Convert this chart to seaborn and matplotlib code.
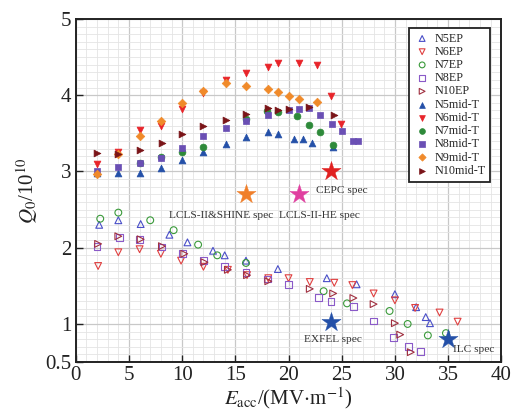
import matplotlib
matplotlib.use("Agg")
import matplotlib.pyplot as plt
import seaborn as sns
import pandas as pd
import numpy as np
from matplotlib.ticker import MultipleLocator

# ---------------- data ----------------
N5EP_E = [2.2, 4.0, 6.1, 8.8, 10.5, 12.9, 14.0, 16.0, 19.0, 23.6, 26.4, 30.0, 32.0, 32.9, 33.3]
N5EP_Q = [2.30, 2.36, 2.31, 2.17, 2.07, 1.96, 1.90, 1.83, 1.72, 1.60, 1.52, 1.39, 1.22, 1.09, 1.01]

N6EP_E = [2.1, 4.0, 6.0, 8.0, 9.9, 12.0, 14.3, 16.1, 18.1, 20.0, 22.0, 24.3, 26.0, 28.0, 30.0, 31.9, 34.2, 35.9]
N6EP_Q = [1.76, 1.94, 1.98, 1.92, 1.83, 1.75, 1.71, 1.64, 1.60, 1.60, 1.55, 1.54, 1.51, 1.40, 1.31, 1.21, 1.15, 1.03]

N7EP_E = [2.3, 4.0, 7.0, 9.2, 11.5, 13.3, 16.0, 23.3, 25.5, 29.5, 31.2, 33.1, 34.8]
N7EP_Q = [2.38, 2.46, 2.36, 2.23, 2.04, 1.90, 1.80, 1.43, 1.27, 1.17, 1.00, 0.85, 0.88]

N8EP_E = [2.0, 4.1, 6.0, 8.1, 10.0, 12.0, 14.0, 16.0, 18.0, 20.0, 22.8, 24.0, 26.1, 28.0, 29.9, 31.3, 32.4]
N8EP_Q = [2.02, 2.13, 2.11, 2.01, 1.92, 1.83, 1.75, 1.67, 1.59, 1.52, 1.35, 1.29, 1.23, 1.04, 0.82, 0.70, 0.64]

N10EP_E = [2.1, 4.0, 6.1, 8.1, 10.2, 12.1, 14.3, 16.1, 18.1, 22.0, 24.2, 26.1, 28.0, 30.0, 30.5, 31.5]
N10EP_Q = [2.05, 2.15, 2.11, 2.02, 1.92, 1.81, 1.71, 1.64, 1.56, 1.46, 1.40, 1.34, 1.26, 1.01, 0.86, 0.63]

N5mid_E = [2.0, 4.0, 6.0, 8.0, 10.0, 12.0, 14.1, 16.0, 18.1, 19.0, 20.5, 21.4, 22.2, 24.2]
N5mid_Q = [2.98, 2.98, 2.98, 3.05, 3.15, 3.26, 3.36, 3.45, 3.52, 3.49, 3.43, 3.43, 3.37, 3.32]

N6mid_E = [2.0, 4.0, 6.0, 8.0, 10.0, 12.0, 14.1, 16.0, 18.1, 19.0, 21.0, 22.7, 24.0, 24.9]
N6mid_Q = [3.10, 3.26, 3.54, 3.60, 3.82, 4.03, 4.20, 4.29, 4.37, 4.42, 4.42, 4.40, 3.99, 3.62]

N7mid_E = [6.0, 8.0, 10.0, 12.0, 16.0, 18.0, 19.0, 20.8, 21.9, 23.0, 24.2]
N7mid_Q = [3.11, 3.19, 3.25, 3.32, 3.69, 3.79, 3.78, 3.73, 3.61, 3.52, 3.35]

N8mid_E = [2.0, 4.0, 6.0, 8.0, 10.0, 12.0, 14.1, 16.0, 18.1, 20.0, 21.0, 21.9, 23.0, 24.1, 25.0, 26.1, 26.5]
N8mid_Q = [3.00, 3.06, 3.11, 3.18, 3.31, 3.47, 3.57, 3.66, 3.74, 3.80, 3.82, 3.83, 3.74, 3.62, 3.53, 3.40, 3.40]

N9mid_E = [2.0, 4.0, 6.0, 8.0, 10.0, 12.0, 14.1, 16.0, 18.1, 19.0, 20.0, 21.0, 22.7]
N9mid_Q = [2.97, 3.23, 3.47, 3.66, 3.90, 4.06, 4.16, 4.12, 4.08, 4.04, 3.99, 3.95, 3.91]

N10mid_E = [2.0, 4.0, 6.0, 8.1, 10.0, 12.0, 14.1, 16.0, 18.1, 19.0, 20.0, 21.9, 24.3]
N10mid_Q = [3.24, 3.23, 3.28, 3.37, 3.49, 3.60, 3.68, 3.75, 3.83, 3.81, 3.82, 3.84, 3.74]

spec_names = ["LCLS-II&SHINE spec", "LCLS-II-HE spec", "CEPC spec", "EXFEL spec", "ILC spec"]
spec_E = [16, 21, 24, 24, 35]
spec_Q = [2.7, 2.7, 3.0, 1.03, 0.8]

x_ticks = [0, 5, 10, 15, 20, 25, 30, 35, 40]
y_ticks = [0.5, 1, 2, 3, 4, 5]
y_tick_labels = ["0.5", "1", "2", "3", "4", "5"]

# ---------------- styles ----------------
series = [
    ("N5EP", N5EP_E, N5EP_Q, "^", "#4a4fc8", False),
    ("N6EP", N6EP_E, N6EP_Q, "v", "#e04040", False),
    ("N7EP", N7EP_E, N7EP_Q, "o", "#3a9a3a", False),
    ("N8EP", N8EP_E, N8EP_Q, "s", "#8a5ac8", False),
    ("N10EP", N10EP_E, N10EP_Q, ">", "#a03040", False),
    ("N5mid-T", N5mid_E, N5mid_Q, "^", "#2450a8", True),
    ("N6mid-T", N6mid_E, N6mid_Q, "v", "#e8242a", True),
    ("N7mid-T", N7mid_E, N7mid_Q, "o", "#2e8a3a", True),
    ("N8mid-T", N8mid_E, N8mid_Q, "s", "#6a4fb4", True),
    ("N9mid-T", N9mid_E, N9mid_Q, "D", "#f08a2a", True),
    ("N10mid-T", N10mid_E, N10mid_Q, ">", "#7a1418", True),
]
spec_colors = ["#f07f2a", "#e040a0", "#e02020", "#2450a8", "#2450a8"]
spec_offsets = [(-25, -21), (20, -21), (11, -19), (2, -18), (26, -10)]

sns.set_theme(style="white")
plt.rcParams["font.family"] = ["Liberation Serif", "DejaVu Serif"]
plt.rcParams["mathtext.fontset"] = "stix"

fig = plt.figure(figsize=(5.12, 4.11), dpi=100)
ax = fig.add_axes([0.148, 0.119, 0.831, 0.835])

for name, E, Q, mk, c, filled in series:
    df = pd.DataFrame({"E": E, "Q": Q})
    s = 24 if mk != "D" else 19
    if filled:
        sns.scatterplot(data=df, x="E", y="Q", ax=ax, marker=mk, s=s, color=c,
                        edgecolor=c, linewidth=0.5, label=name, zorder=3)
    else:
        sns.scatterplot(data=df, x="E", y="Q", ax=ax, marker=mk, s=s, color=c,
                        facecolors="none", edgecolors=c, linewidth=0.8, label=name, zorder=3)

spec_df = pd.DataFrame({"E": spec_E, "Q": spec_Q, "name": spec_names})
for i, row in spec_df.iterrows():
    sns.scatterplot(x=[row["E"]], y=[row["Q"]], ax=ax, marker="*", s=210,
                    color=spec_colors[i], edgecolor=spec_colors[i], linewidth=0.3,
                    legend=False, zorder=4)
    ax.annotate(row["name"], (row["E"], row["Q"]), xytext=spec_offsets[i],
                textcoords="offset pixels", ha="center", va="center",
                fontsize=8.2, color="#333333", zorder=5)

ax.set_xlim(0, 40)
ax.set_ylim(0.5, 5)
ax.set_xticks(x_ticks)
ax.set_xticklabels([str(t) for t in x_ticks])
ax.set_yticks(y_ticks)
ax.set_yticklabels(y_tick_labels)
ax.xaxis.set_minor_locator(MultipleLocator(1))
ax.yaxis.set_minor_locator(MultipleLocator(0.1))
ax.grid(which="major", color="#c8c8c8", linewidth=0.9, zorder=0)
ax.grid(which="minor", color="#e4e4e4", linewidth=0.6, zorder=0)
ax.set_axisbelow(True)
ax.tick_params(which="major", direction="in", length=5, width=1.0, labelsize=15,
               colors="#222222", top=False, right=False, left=True, bottom=True, pad=3)
ax.tick_params(which="minor", length=0)
for sp in ax.spines.values():
    sp.set_color("#222222")
    sp.set_linewidth(1.4)

ax.set_xlabel(r"$E_{\rm acc}$/(MV$\cdot$m$^{-1}$)", fontsize=15, labelpad=0, color="#222222")
ax.set_ylabel(r"$Q_0$/10$^{10}$", fontsize=15, labelpad=4, color="#222222")

leg = ax.legend(loc="upper right", bbox_to_anchor=(0.974, 0.974), borderaxespad=0,
                fontsize=8.7, frameon=True, fancybox=False, edgecolor="#222222",
                framealpha=1, labelspacing=0.1, handletextpad=0.35, borderpad=0.4,
                markerscale=0.85, handlelength=1.3)
leg.get_frame().set_linewidth(1.3)

fig.savefig("out.png", dpi=100)
